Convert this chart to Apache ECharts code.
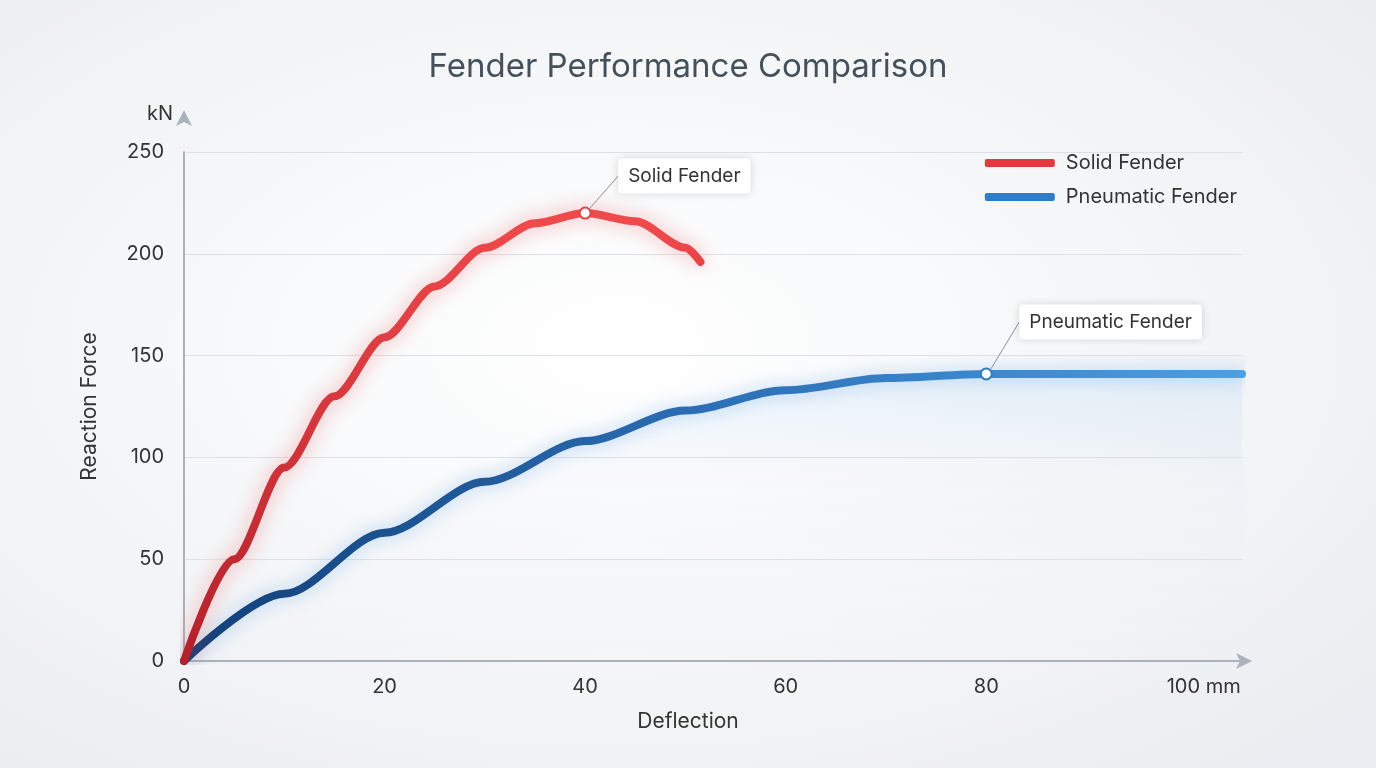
<!DOCTYPE html>
<html lang="en">
<head>
<meta charset="UTF-8" />
<title>Fender Performance Comparison</title>
<style>
  * { box-sizing: border-box; margin: 0; padding: 0; }
  html, body { width: 1376px; height: 768px; overflow: hidden; }
  body { background: radial-gradient(ellipse at 45% 45%, #ffffff 0%, #f4f6f8 50%, #e9ecf0 100%); }
  #chart { width: 1376px; height: 768px; }
</style>
</head>
<body>
<div id="chart"></div>
<script src="https://cdn.jsdelivr.net/npm/echarts@6/dist/echarts.min.js"></script>
<script>
  // data
  var solidX = [0, 5, 10, 15, 20, 25, 30, 35, 40, 45, 50, 51.5]
  var solidY = [0, 50, 95, 130, 159, 184, 203, 215, 220, 216, 203, 196]
  var pneuX = [0, 10, 20, 30, 40, 50, 60, 70, 80, 90, 100, 105.5]
  var pneuY = [0, 33, 63, 88, 108, 123, 133, 139, 141, 141, 141, 141]
  var yTicks = [0, 50, 100, 150, 200, 250]

  function pairs(xs, ys) { return xs.map(function (x, i) { return [x, ys[i]] }) }

  var chart = echarts.init(document.getElementById('chart'))
  var font = 'Inter, "Open Sans", sans-serif'
  chart.setOption({
    textStyle: { fontFamily: font },
    title: {
      text: 'Fender Performance Comparison', left: 'center', top: 46,
      textStyle: { fontSize: 33, fontWeight: 'normal', color: '#46505a', fontFamily: font }
    },
    legend: {
      right: 134, top: 148, orient: 'vertical', itemGap: 14, itemWidth: 70, itemHeight: 8,
      icon: 'roundRect', textStyle: { fontSize: 20, color: '#333', padding: [0, 0, 0, 6] },
      data: ['Solid Fender', 'Pneumatic Fender']
    },
    grid: { left: 184, right: 134, top: 152, bottom: 107 },
    xAxis: {
      type: 'value', min: 0, max: 105.5, interval: 20,
      name: 'Deflection', nameLocation: 'middle', nameGap: 50,
      nameTextStyle: { fontSize: 21, color: '#333', padding: [0, 50, 0, 0] },
      axisLine: { lineStyle: { color: '#aab2bb', width: 2 }, symbol: ['none', 'arrow'], symbolSize: [12, 16], symbolOffset: [0, 10] },
      axisTick: { show: false },
      splitLine: { show: false },
      axisLabel: {
        fontSize: 20, color: '#333', margin: 16,
        formatter: function (v) { return v === 100 ? '      100 mm' : (v % 20 === 0 ? v : '') }
      }
    },
    yAxis: [{
      type: 'value', min: 0, max: 250, interval: 50,
      name: 'Reaction Force', nameLocation: 'middle', nameGap: 84, nameRotate: 90,
      nameTextStyle: { fontSize: 21, color: '#333' },
      axisLine: { show: true, lineStyle: { color: '#aab2bb', width: 2 }, symbol: ['none', 'arrow'], symbolSize: [12, 16], symbolOffset: [0, 42] },
      axisTick: { show: false },
      splitLine: { lineStyle: { color: '#dde1e6', width: 1 } },
      axisLabel: { fontSize: 20, color: '#333', margin: 20 }
    }, {
      type: 'value', position: 'left', min: 0, max: 250, show: true,
      name: 'kN', nameLocation: 'end', nameGap: 28,
      nameTextStyle: { fontSize: 20, color: '#333', padding: [0, 48, 0, 0] },
      axisLine: { show: false }, axisTick: { show: false }, axisLabel: { show: false }, splitLine: { show: false }
    }],
    series: [
      {
        name: 'Solid Fender', type: 'line', smooth: 0.3, smoothMonotone: 'x', showSymbol: false, z: 3,
        data: pairs(solidX, solidY),
        color: '#e03a3e',
        lineStyle: {
          width: 8, cap: 'round',
          color: new echarts.graphic.LinearGradient(0, 1, 0, 0, [
            { offset: 0, color: '#b3202a' }, { offset: 1, color: '#f04a4c' }]),
          shadowColor: 'rgba(240,60,60,0.45)', shadowBlur: 20
        },
        markPoint: {
          symbol: 'circle', symbolSize: 11,
          itemStyle: { color: '#fff', borderColor: '#e0454a', borderWidth: 2 },
          label: { show: false },
          data: [{ coord: [40, 220] }]
        }
      },
      {
        name: 'Pneumatic Fender', type: 'line', smooth: 0.3, smoothMonotone: 'x', showSymbol: false, z: 2,
        data: pairs(pneuX, pneuY),
        color: '#2f7cc8',
        lineStyle: {
          width: 8, cap: 'round',
          color: new echarts.graphic.LinearGradient(0, 0, 1, 0, [
            { offset: 0, color: '#123f78' }, { offset: 0.5, color: '#2c6fb6' }, { offset: 1, color: '#4aa0e6' }]),
          shadowColor: 'rgba(60,140,230,0.4)', shadowBlur: 18
        },
        areaStyle: {
          color: new echarts.graphic.LinearGradient(0, 0, 0, 1, [
            { offset: 0, color: 'rgba(120,180,240,0.2)' }, { offset: 0.35, color: 'rgba(150,200,245,0.04)' }, { offset: 1, color: 'rgba(255,255,255,0)' }])
        },
        markPoint: {
          symbol: 'circle', symbolSize: 11,
          itemStyle: { color: '#fff', borderColor: '#2d7cc4', borderWidth: 2 },
          label: { show: false },
          data: [{ coord: [80, 141] }]
        }
      }
    ]
  })

  // callout boxes near the marked points
  function callout(coord, text, dx, dy) {
    var p = chart.convertToPixel({ gridIndex: 0 }, coord)
    return [
      { type: 'line', shape: { x1: p[0] + 4, y1: p[1] - 4, x2: p[0] + dx, y2: p[1] + dy }, style: { stroke: '#8a929a', lineWidth: 1 }, z: 10 },
      { type: 'text', x: p[0] + dx, y: p[1] + dy, z: 10,
        style: { text: text, fontSize: 19, fill: '#333', fontFamily: font, backgroundColor: '#fff', padding: [8, 10],
          borderRadius: 4, shadowColor: 'rgba(0,0,0,0.15)', shadowBlur: 8, verticalAlign: 'middle' } }
    ]
  }
  chart.setOption({
    graphic: callout([40, 220], 'Solid Fender', 33, -37).concat(callout([80, 141], 'Pneumatic Fender', 33, -52)),
  })
</script>
</body>
</html>
